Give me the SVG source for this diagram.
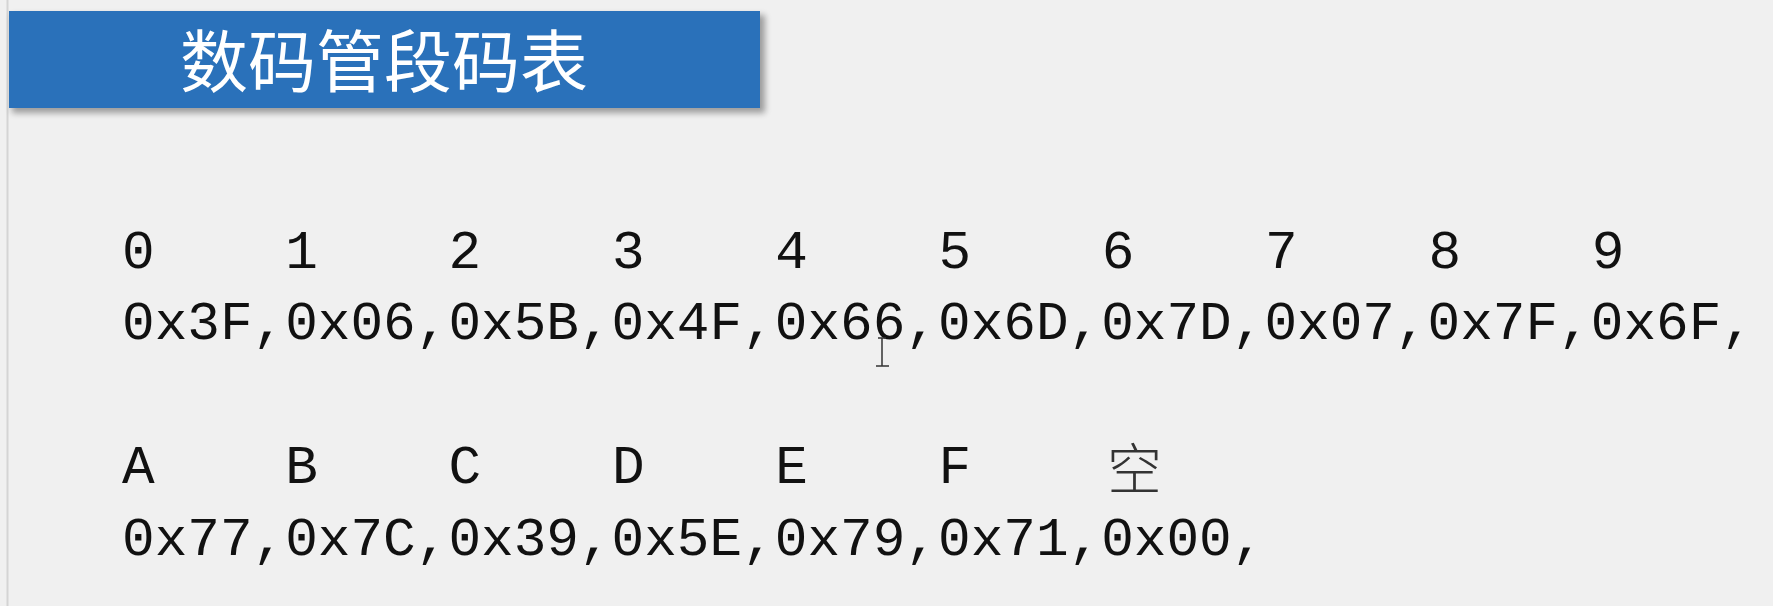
<svg xmlns="http://www.w3.org/2000/svg" width="1773" height="606" viewBox="0 0 1773 606">
<defs>
<filter id="sh" x="-5%" y="-20%" width="115%" height="150%">
<feGaussianBlur stdDeviation="3"/>
</filter>
<style>
.m{font-family:"Liberation Mono","DejaVu Sans Mono",monospace;font-size:54.4px;fill:#111}
.cjk{font-family:"Noto Sans CJK SC",sans-serif}
</style>
</defs>
<rect width="1773" height="606" fill="#f0f0f0"/>
<line x1="7.5" y1="0" x2="7.5" y2="606" stroke="#d4d4d4" stroke-width="2"/>
<g id="title">
<rect x="12" y="15" width="753" height="98" fill="#000" opacity="0.35" filter="url(#sh)"/>
<rect x="9" y="11" width="751" height="97" fill="#2a71ba"/>
<text x="180" y="87" class="cjk" font-size="68" fill="#ffffff">数码管段码表</text>
</g>
<g id="row1">
<text class="m" x="122" y="268">0</text>
<text class="m" x="285.3" y="268">1</text>
<text class="m" x="448.6" y="268">2</text>
<text class="m" x="611.9" y="268">3</text>
<text class="m" x="775.2" y="268">4</text>
<text class="m" x="938.5" y="268">5</text>
<text class="m" x="1101.8" y="268">6</text>
<text class="m" x="1265.1" y="268">7</text>
<text class="m" x="1428.4" y="268">8</text>
<text class="m" x="1591.7" y="268">9</text>
</g>
<g id="row2">
<text class="m" x="122" y="339">0x3F,0x06,0x5B,0x4F,0x66,0x6D,0x7D,0x07,0x7F,0x6F,</text>
</g>
<g id="row3">
<text class="m" x="122" y="483">A</text>
<text class="m" x="285.3" y="483">B</text>
<text class="m" x="448.6" y="483">C</text>
<text class="m" x="611.9" y="483">D</text>
<text class="m" x="775.2" y="483">E</text>
<text class="m" x="938.5" y="483">F</text>
<text class="cjk" x="1107" y="489" font-size="55" font-weight="300" fill="#333">空</text>
</g>
<g id="row4">
<text class="m" x="122" y="555">0x77,0x7C,0x39,0x5E,0x79,0x71,0x00,</text>
</g>
<g id="cursor" stroke="#333" stroke-width="1.5" fill="none">
<path d="M882 338V366M876 366H889M878 338H886"/>
</g>
</svg>
